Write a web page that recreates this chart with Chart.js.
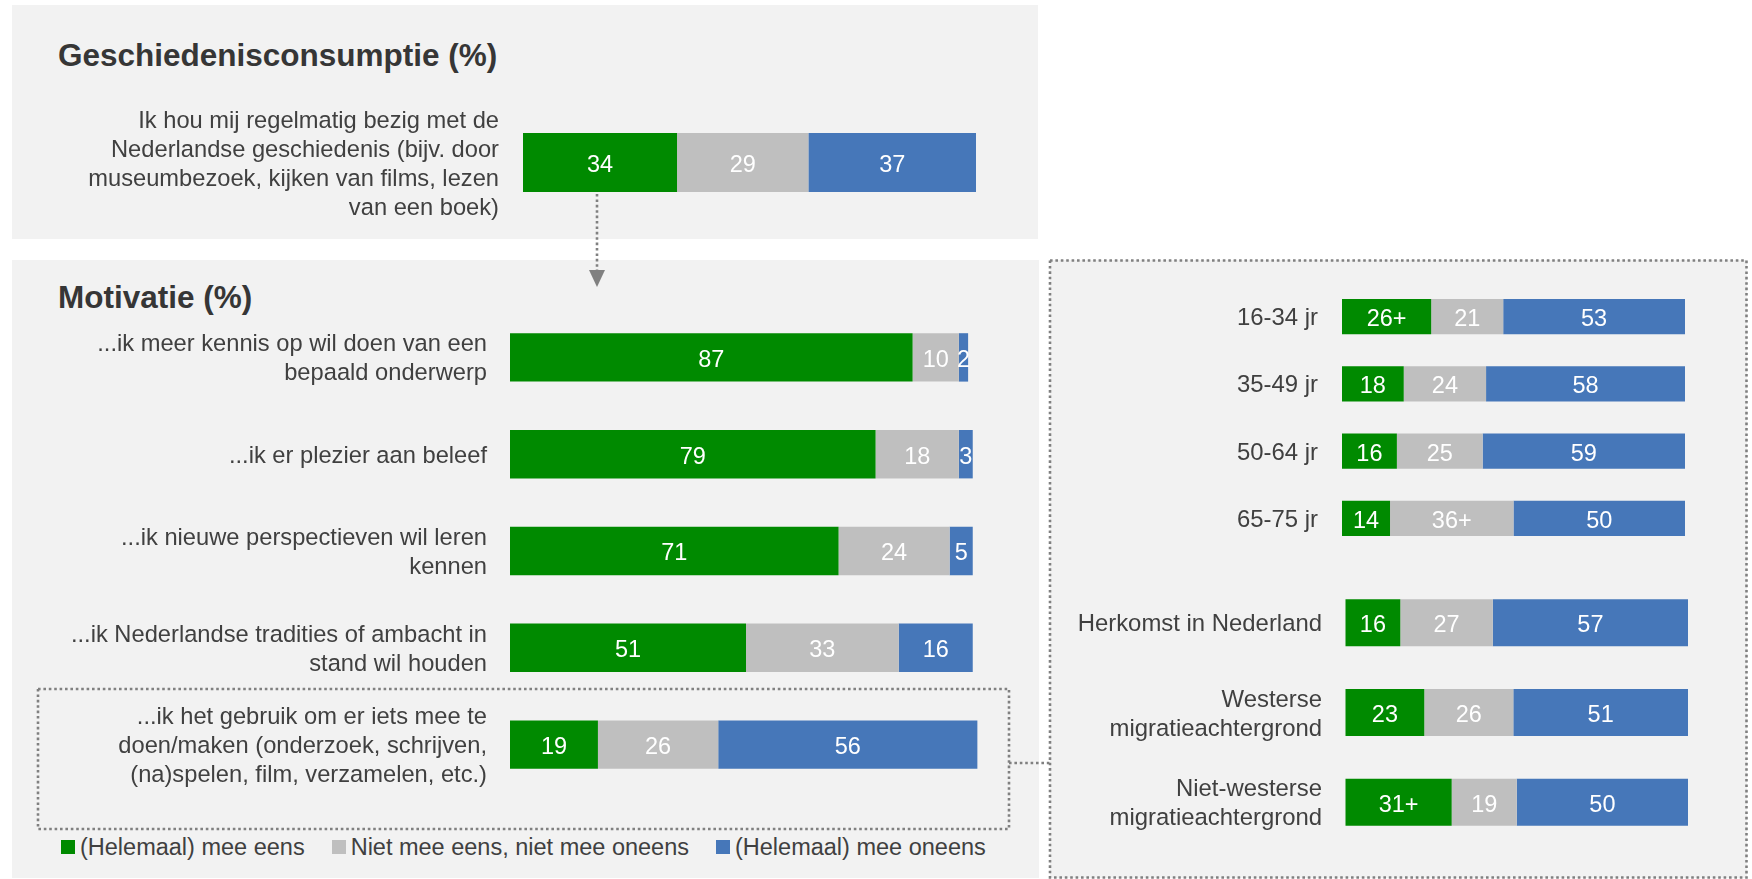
<!DOCTYPE html>
<html>
<head>
<meta charset="utf-8">
<script src="https://cdn.jsdelivr.net/npm/chart.js@4"></script>
<style>
  body { margin: 0; background: #ffffff; }
  #page { position: relative; width: 1752px; height: 879px; overflow: hidden;
          font-family: "Liberation Sans", Arial, sans-serif; }
  .panel { position: absolute; background: #f2f2f2; }
  .title { position: absolute; font-size: 31.5px; font-weight: bold; line-height: 1; color: #363636; white-space: nowrap; }
  .chart-box { position: absolute; }
  #legend { position: absolute; left: 61px; top: 835px; height: 24px; display: flex; align-items: center;
            font-size: 23.5px; color: #404040; white-space: nowrap; }
  #legend .item { display: flex; align-items: center; margin-right: 27px; }
  #legend .box { width: 14px; height: 14px; margin-right: 5px; }
  svg { position: absolute; left: 0; top: 0; pointer-events: none; }
</style>
</head>
<body>
<div id="page">
  <div class="panel" style="left:12px; top:5px; width:1026px; height:234px;"></div>
  <div class="panel" style="left:12px; top:260px; width:1027px; height:618px;"></div>
  <div class="panel" style="left:1050px; top:260px; width:697px; height:618px;"></div>

  <div class="title" style="left:58px; top:40px;">Geschiedenisconsumptie (%)</div>
  <div class="title" style="left:58px; top:282px;">Motivatie (%)</div>

  <div class="chart-box" style="left:0; top:92px; width:976px; height:141px;"><canvas id="consumptionChart"></canvas></div>
  <div class="chart-box" style="left:0; top:289px; width:982px; height:524px;"><canvas id="motivationChart"></canvas></div>
  <div class="chart-box" style="left:1050px; top:263px; width:635px; height:309px;"><canvas id="ageChart"></canvas></div>
  <div class="chart-box" style="left:1050px; top:558px; width:638px; height:309px;"><canvas id="originChart"></canvas></div>

  <div id="legend"></div>

  <svg width="1752" height="879">
    <g stroke="#808080" stroke-width="2.6" stroke-dasharray="2.6 2.8" fill="none">
      <rect x="1050" y="260.5" width="696.5" height="617"></rect>
      <rect x="38" y="689" width="971" height="140"></rect>
      <line x1="1009" y1="763" x2="1050" y2="763"></line>
      <line x1="597" y1="194" x2="597" y2="272"></line>
    </g>
    <polygon points="589,270 605,270 597,287" fill="#808080"></polygon>
  </svg>
</div>

<script>
// Reeksen
var seriesNames = ['(Helemaal) mee eens', 'Niet mee eens, niet mee oneens', '(Helemaal) mee oneens'];
var seriesColors = ['#008a00', '#bfbfbf', '#4677b9'];

// Geschiedenisconsumptie
var consumptionLabels = [['Ik hou mij regelmatig bezig met de', 'Nederlandse geschiedenis (bijv. door', 'museumbezoek, kijken van films, lezen', 'van een boek)']];
var consumptionAgree = [34];
var consumptionNeutral = [29];
var consumptionDisagree = [37];

// Motivatie
var motivationLabels = [
    ['...ik meer kennis op wil doen van een', 'bepaald onderwerp'],
    '...ik er plezier aan beleef',
    ['...ik nieuwe perspectieven wil leren', 'kennen'],
    ['...ik Nederlandse tradities of ambacht in', 'stand wil houden'],
    ['...ik het gebruik om er iets mee te', 'doen/maken (onderzoek, schrijven,', '(na)spelen, film, verzamelen, etc.)']
];
var motivationAgree = [87, 79, 71, 51, 19];
var motivationNeutral = [10, 18, 24, 33, 26];
var motivationDisagree = [2, 3, 5, 16, 56];

// Leeftijd
var ageLabels = ['16-34 jr', '35-49 jr', '50-64 jr', '65-75 jr'];
var ageAgree = [26, 18, 16, 14];
var ageNeutral = [21, 24, 25, 36];
var ageDisagree = [53, 58, 59, 50];
var ageAgreeMarks = ['+', '', '', ''];
var ageNeutralMarks = ['', '', '', '+'];

// Herkomst
var originLabels = ['Herkomst in Nederland', ['Westerse', 'migratieachtergrond'], ['Niet-westerse', 'migratieachtergrond']];
var originAgree = [16, 23, 31];
var originNeutral = [27, 26, 19];
var originDisagree = [57, 51, 50];
var originAgreeMarks = ['', '', '+'];

Chart.defaults.font.family = '"Liberation Sans", Arial, sans-serif';

// waarden in de balken schrijven
var segmentLabels = {
    id: 'segmentLabels',
    afterDatasetsDraw: function(chart) {
        var ctx = chart.ctx;
        ctx.save();
        ctx.font = '23.5px "Liberation Sans", Arial, sans-serif';
        ctx.fillStyle = '#ffffff';
        ctx.textAlign = 'center';
        ctx.textBaseline = 'middle';
        chart.data.datasets.forEach(function(ds, i) {
            var marks = ds.marks || [];
            chart.getDatasetMeta(i).data.forEach(function(bar, j) {
                var p = bar.getProps(['x', 'base', 'y'], true);
                ctx.fillText(ds.data[j] + (marks[j] || ''), (p.x + p.base) / 2, p.y + 3);
            });
        });
        ctx.restore();
    }
};

function drawBars(id, labels, agree, neutral, disagree, marks, cfg) {
    var values = [agree, neutral, disagree];
    return new Chart(document.getElementById(id), {
        type: 'bar',
        data: {
            labels: labels,
            datasets: values.map(function(v, i) {
                return {
                    label: seriesNames[i],
                    data: v,
                    backgroundColor: seriesColors[i],
                    borderWidth: 0,
                    clip: false,
                    marks: marks[i],
                    barPercentage: cfg.bar,
                    categoryPercentage: 1
                };
            })
        },
        options: {
            indexAxis: 'y',
            responsive: true,
            maintainAspectRatio: false,
            animation: false,
            layout: { padding: { top: 20, bottom: 20 } },
            plugins: { legend: { display: false }, tooltip: { enabled: false } },
            scales: {
                x: { display: false, stacked: true, min: 0, max: cfg.max || 100 },
                y: {
                    stacked: true,
                    grid: { display: false, drawTicks: false },
                    border: { display: false },
                    ticks: { color: '#404040', padding: cfg.pad, labelOffset: 2,
                             font: { size: cfg.font, lineHeight: '29px' } },
                    afterFit: function(s) {
                        s.width = cfg.axis;
                        s.paddingTop = 0;
                        s.paddingBottom = 0;
                    }
                }
            }
        },
        plugins: [segmentLabels]
    });
}

drawBars('consumptionChart', consumptionLabels, consumptionAgree, consumptionNeutral, consumptionDisagree, [],
    { axis: 523, pad: 24, font: 23.7, bar: 0.585 });
// tot 102 zodat de balk van 101 niet wordt afgesneden
drawBars('motivationChart', motivationLabels, motivationAgree, motivationNeutral, motivationDisagree, [],
    { axis: 510, pad: 23, font: 23.7, bar: 0.5, max: 102 });
drawBars('ageChart', ageLabels, ageAgree, ageNeutral, ageDisagree, [ageAgreeMarks, ageNeutralMarks],
    { axis: 292, pad: 24, font: 23.9, bar: 0.526 });
drawBars('originChart', originLabels, originAgree, originNeutral, originDisagree, [originAgreeMarks],
    { axis: 295.5, pad: 23.5, font: 23.9, bar: 0.524 });

// legenda
var legend = document.getElementById('legend');
seriesNames.forEach(function(name, i) {
    var item = document.createElement('div');
    item.className = 'item';
    item.innerHTML = '<div class="box" style="background:' + seriesColors[i] + '"></div><span>' + name + '</span>';
    legend.appendChild(item);
});
</script>
</body>
</html>
